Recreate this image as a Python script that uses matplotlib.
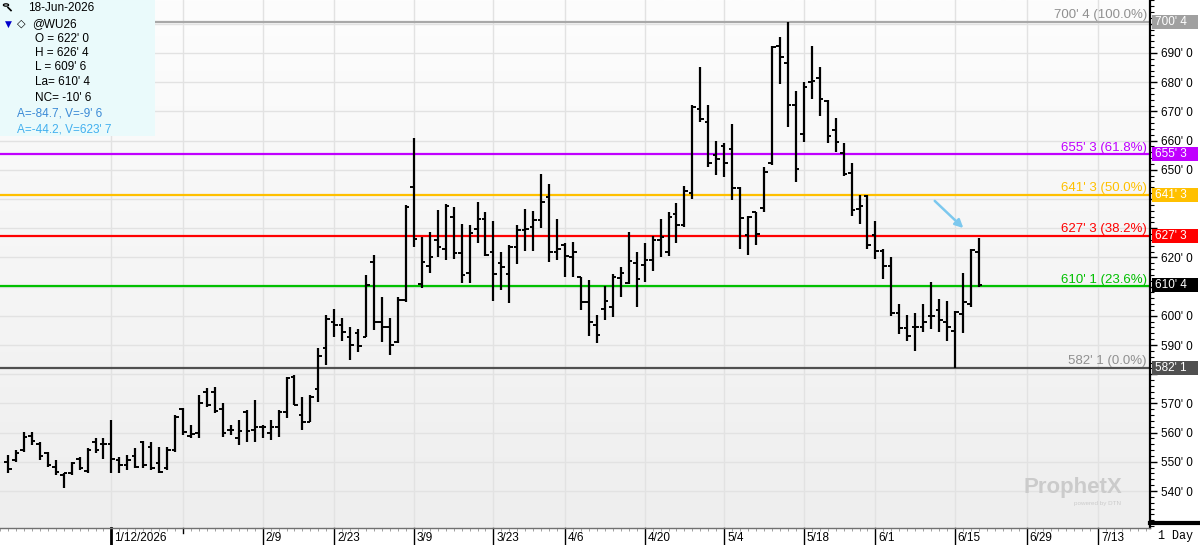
import numpy as np
import pandas as pd
import matplotlib.pyplot as plt
import matplotlib.transforms as mtransforms
from matplotlib.colors import LinearSegmentedColormap
from matplotlib.patches import Rectangle, FancyArrowPatch, Circle
from matplotlib.ticker import FuncFormatter, MultipleLocator

plt.rcParams["font.family"] = ["Liberation Sans", "DejaVu Sans"]

# ------------------------------------------------------------------
# Data: @WU26 daily bars, exchange holidays
# ------------------------------------------------------------------
holidays = ["2025-12-25", "2026-01-01", "2026-01-19", "2026-02-16",
            "2026-04-03", "2026-05-25", "2026-06-19", "2026-07-03"]

opens = [550, 550.5, 554, 559, 556, 553, 548.3, 545.5, 546, 551,
         547, 556.9, 556, 556, 550.5, 549, 552, 556.9, 555, 549.5,
         547.8, 554, 568, 559, 560, 574, 574, 568, 561, 558,
         567, 561, 562, 560, 562, 567, 579, 566, 563.5, 575,
         588.9, 598, 597, 592.9, 594, 592.8, 618.5, 598, 596.3, 591.1,
         605.4, 644.2, 611, 617, 625.9, 623, 633.7, 621.4, 614.8, 629.6,
         633, 622, 618, 614.3, 623.4, 629.4, 630.5, 632.8, 640.8, 622,
         624.2, 620, 613.2, 604.8, 596.8, 602.2, 603, 613, 611.1, 618,
         617.4, 619.1, 626, 622, 635, 631, 642.2, 670.7, 666.5, 655,
         658, 657, 643.6, 627.7, 635.4, 637, 652.4, 692.4, 686.5, 672.2,
         662.3, 680.2, 681.3, 673.5, 663.6, 655.6, 648.8, 636.5, 641, 627.7,
         622.3, 617, 601, 595.7, 596.3, 596.3, 600, 602, 598, 594.9,
         600.6, 604, 622]
highs = [552.3, 554, 560.3, 560.3, 556.9, 553.5, 550.6, 546.3, 550, 551.5,
         554.6, 558, 558, 564.3, 551.5, 552.3, 554.6, 557.2, 556.9, 555.2,
         555.2, 566, 568.3, 562.6, 572.9, 575.2, 575.7, 570, 562.6, 564.3,
         567.7, 571.2, 562.6, 564.3, 567.7, 579.2, 579.7, 572.3, 572.9, 588.9,
         600.3, 602.2, 599.1, 596, 595.4, 614, 620.8, 606.6, 599.1, 606.6,
         637.9, 660.8, 627.1, 628.8, 636.2, 638.3, 637.1, 631.4, 631.1, 639.1,
         635.7, 632.6, 622, 624.2, 631.1, 636.6, 636, 648.6, 645.1, 633,
         624.8, 625.4, 613.4, 612.3, 600.3, 610.2, 614.3, 616.8, 628.8, 622,
         624.8, 627.3, 633, 635.7, 638.5, 644.4, 672.2, 685.3, 672.2, 660,
         659.3, 665.7, 644.2, 634.2, 635.7, 651.1, 692.4, 695.6, 700.5, 677.1,
         680.2, 692.4, 685.3, 674, 667.6, 659.3, 652.2, 641.4, 641.4, 632.6,
         622.8, 620.3, 604, 600.3, 601.1, 604, 611.7, 605.6, 605.2, 601.6,
         614.5, 622.8, 626.5]
lows = [546.1, 550, 553.5, 555.8, 550.6, 548.3, 545.5, 540.9, 545.5, 547.2,
        546.1, 553, 551, 546.1, 546.1, 547.2, 547.8, 547.8, 547.2, 546.1,
        547.2, 553.5, 559.2, 558, 558, 568.9, 566.6, 558.6, 559.2, 555.8,
        556.9, 556.9, 558, 557.5, 558.6, 565, 569.5, 561, 563.5, 570.6,
        583.2, 592.9, 591.5, 584.9, 587.7, 592.6, 595.1, 591.1, 586.6, 590.6,
        604.8, 623.7, 609.4, 614.5, 620.2, 619.1, 619.3, 611.1, 611.1, 624.8,
        620.5, 605.2, 609, 604.5, 617.7, 622.3, 622.3, 630, 618.5, 619.1,
        613.4, 613.4, 602, 593.1, 590.6, 598.6, 599.7, 606.3, 610.9, 603.1,
        611.7, 615.5, 620, 620.5, 624.8, 630.5, 639.9, 666.5, 650.8, 648.2,
        647.4, 639.7, 622.8, 620.8, 624.2, 635.7, 651.6, 679.4, 664.8, 645.9,
        659.6, 674.1, 668.4, 659.3, 656.2, 647.9, 634.2, 631.4, 622.8, 619.3,
        612.5, 599.9, 593.8, 591.5, 588.1, 594.6, 595.4, 594.6, 591.5, 582.125,
        594, 603.1, 609.75]
closes = [547.5, 553, 558.6, 557, 552, 549, 546.6, 546, 549.5, 547.8,
          554, 554, 556, 551, 549, 550.5, 548.3, 548.9, 547.8, 546.6,
          554, 565.5, 560.3, 559.5, 570, 569.5, 567.5, 560, 561, 560.5,
          560.5, 562, 562, 562, 567.2, 578.6, 569.5, 563.7, 572.3, 586.2,
          598.8, 596.9, 594.6, 590, 589.7, 610.5, 598, 596.3, 590, 605.4,
          637.1, 626.2, 618.5, 620.2, 623.4, 637.6, 621.4, 614, 628.5, 633,
          620.8, 614.3, 616.6, 623.4, 629.4, 629.8, 632.8, 639.1, 622, 623,
          620.5, 622, 604.8, 598, 593.4, 605, 613.4, 614.5, 618.9, 612.5,
          619.1, 625.9, 627, 633.7, 631.1, 642.8, 671.4, 667.3, 652.2, 653.6,
          652.4, 643.6, 633.4, 634, 628, 649.4, 692, 688.7, 672.2, 650.2,
          678.5, 680.5, 674.1, 661.6, 659.6, 648.6, 636.2, 637.6, 624.2, 622.3,
          617, 601, 595.7, 593.1, 596.3, 598, 599.9, 598.6, 596.3, 601.4,
          604.8, 622.5, 610.5]

fib_pcts = [0.0, 0.236, 0.382, 0.5, 0.618, 1.0]
fib_colors = ["#505050", "#00c000", "#ff0000", "#ffc000", "#c000ff", "#a8a8a8"]

sessions = pd.bdate_range("2025-12-22", "2026-07-17", freq="C", holidays=holidays)
n = len(opens)
xs = np.arange(n)


def fmt_price(p, pos=None):
    whole = int(np.floor(p + 1e-9))
    eighth = int(np.ceil((p - whole) * 8 - 1e-6))
    if eighth == 8:
        whole, eighth = whole + 1, 0
    return f"{whole}' {eighth}"


# fib levels and the prices that get a coloured box on the axis
hi_i = int(np.argmax(highs))
swing_hi = highs[hi_i]
swing_lo = min(lows[hi_i:])
rng = swing_hi - swing_lo
levels = [swing_lo + p * rng for p in fib_pcts]
box_levels = [lv for lv, p in zip(levels, fib_pcts) if p != 0.236] + [closes[-1]]


def axis_label(p, pos=None):
    # labels hidden behind a price box are left out
    if any(abs(p - b) < 4.5 for b in box_levels):
        return ""
    return fmt_price(p)


# ------------------------------------------------------------------
# Figure / axes
# ------------------------------------------------------------------
W, H = 1200, 545
fig = plt.figure(figsize=(W / 100, H / 100), dpi=100)
fig.patch.set_facecolor("white")
ax = fig.add_axes([0, 17 / H, 1150 / W, 528 / H])

bg = LinearSegmentedColormap.from_list("bg", ["#fdfdfd", "#eeeeee"])
ax.imshow(np.linspace(0, 1, 256).reshape(-1, 1), cmap=bg, extent=[0, 1, 0, 1],
          transform=ax.transAxes, aspect="auto", zorder=0)
ax.set_xlim(-0.25, 143.5)
ax.set_ylim(527.33, 708.15)

for s in ["top", "left"]:
    ax.spines[s].set_visible(False)
ax.spines["right"].set_color("black")
ax.spines["right"].set_linewidth(1.6)
ax.spines["bottom"].set_color("#707070")
ax.spines["bottom"].set_linewidth(1)

# right price axis
ax.yaxis.tick_right()
ax.set_yticks(np.arange(540, 701, 10))
ax.yaxis.set_minor_locator(MultipleLocator(2))
ax.yaxis.set_major_formatter(FuncFormatter(axis_label))
ax.tick_params(axis="y", which="major", length=5, width=1, labelsize=8.5, pad=3)
ax.tick_params(axis="y", which="minor", length=3, width=0.8)
ax.grid(axis="y", color="#e2e2e2", lw=1, zorder=1)

# date axis (biweekly Mondays)
tick_days = pd.date_range("2026-01-12", "2026-07-13", freq="14D")
tick_idx = sessions.get_indexer(tick_days)
ax.set_xticks([])
ax.set_xticks(np.arange(-1, 144), minor=True)
ax.tick_params(axis="x", which="minor", length=2, width=0.6, color="#909090")
blend = mtransforms.blended_transform_factory(ax.transData, ax.transAxes)
for k, (d, i) in enumerate(zip(tick_days, tick_idx)):
    ax.axvline(i, color="#e2e2e2", lw=1, zorder=1)
    if k == 1:
        ax.plot([i, i], [0, -5 / 528], transform=blend, clip_on=False,
                color="black", lw=1)
        continue
    ax.plot([i, i], [0, -17 / 528], transform=blend, clip_on=False,
            color="black", lw=2 if k == 0 else 1)
    label = f"{d.month}/{d.day}/{d.year}" if k == 0 else f"{d.month}/{d.day}"
    ax.text(i + 0.35, -10 / 528, label, transform=blend, ha="left", va="center",
            fontsize=8.5, clip_on=False)

# ------------------------------------------------------------------
# Fibonacci retracement lines
# ------------------------------------------------------------------
ay = mtransforms.blended_transform_factory(ax.transAxes, ax.transData)
for pct, lvl, col in zip(fib_pcts, levels, fib_colors):
    ax.axhline(lvl, color=col, lw=1.6, zorder=2)
    tcol = "#909090" if pct in (0.0, 1.0) else col
    ax.text(1147 / 1150, lvl + 0.3, f"{fmt_price(lvl)} ({pct * 100:.1f}%)",
            transform=ay, ha="right", va="bottom", fontsize=9.5, color=tcol, zorder=3)
    if pct == 0.236:
        continue
    box_col = "#a0a0a0" if pct == 1.0 else col
    ax.add_patch(Rectangle((1152 / 1150, lvl - 2.4), 46 / 1150, 4.8, transform=ay,
                           facecolor=box_col, edgecolor="none", clip_on=False, zorder=5))
    ax.text(1155 / 1150, lvl, fmt_price(lvl), transform=ay, ha="left", va="center",
            fontsize=8.5, color="white", clip_on=False, zorder=6)

# last price box
last = closes[-1]
ax.add_patch(Rectangle((1152 / 1150, last - 2.4), 46 / 1150, 4.8, transform=ay,
                       facecolor="black", edgecolor="none", clip_on=False, zorder=5))
ax.text(1155 / 1150, last, fmt_price(last), transform=ay, ha="left", va="center",
        fontsize=8.5, color="white", clip_on=False, zorder=6)

# ------------------------------------------------------------------
# OHLC bars
# ------------------------------------------------------------------
ax.vlines(xs, lows, highs, color="black", lw=1.6, zorder=4)
ax.hlines(opens, xs - 0.45, xs, color="black", lw=1.4, zorder=4)
ax.hlines(closes, xs, xs + 0.45, color="black", lw=1.4, zorder=4)

# annotation arrow
ax.add_patch(FancyArrowPatch((116.2, 640.0), (120.3, 629.4), arrowstyle="-|>",
                             mutation_scale=12, color="#7cc8ee", lw=1.8, zorder=6))

# watermark
ax.text(1122 / 1150, 1 - 488 / 528, "ProphetX", transform=ax.transAxes, ha="right",
        va="center", fontsize=16, fontweight="bold", color="#cbcbcb", zorder=3)
ax.text(1121 / 1150, 1 - 503 / 528, "powered by DTN", transform=ax.transAxes,
        ha="right", va="center", fontsize=4.5, color="#cbcbcb", zorder=3)

# ------------------------------------------------------------------
# Info panel (top-left) and corner label
# ------------------------------------------------------------------
def fx(px):
    return px / W


def fy(py):
    return 1 - py / H


fig.add_artist(Rectangle((0, fy(136)), fx(155), 136 / H, transform=fig.transFigure,
                         facecolor="#eafafb", edgecolor="none", zorder=5))
fig.add_artist(Circle((fx(6), fy(5)), 2.6 / W, transform=fig.transFigure,
                      facecolor="none", edgecolor="black", lw=0.9, zorder=6))
fig.add_artist(plt.Line2D([fx(8), fx(11)], [fy(7.5), fy(10.5)], transform=fig.transFigure,
                          color="black", lw=1.2, zorder=6))
fig.text(fx(28), fy(8), "18-Jun-2026", fontsize=8.5, va="center", zorder=6)
fig.text(fx(5), fy(24), "\u25bc", fontsize=6.5, color="#0000cc", va="center", zorder=6,
         family="DejaVu Sans")
fig.text(fx(17), fy(24), "\u25c7", fontsize=8, color="black", va="center", zorder=6,
         fontweight="bold", family="DejaVu Sans")
fig.text(fx(32), fy(24), "@WU26", fontsize=8.5, va="center", zorder=6)
info = [("O = 622' 0", 39), ("H = 626' 4", 53), ("L = 609' 6", 67),
        ("La= 610' 4", 82), ("NC= -10' 6", 98)]
for txt, py in info:
    fig.text(fx(35), fy(py), txt, fontsize=8.5, va="center", zorder=6)
fig.text(fx(17), fy(114), "A=-84.7, V=-9' 6", fontsize=8.5, va="center",
         color="#3b8ad6", zorder=6)
fig.text(fx(17), fy(129), "A=-44.2, V=623' 7", fontsize=8.5, va="center",
         color="#42b0ef", zorder=6)

fig.add_artist(plt.Line2D([fx(1150), fx(1200)], [fy(523), fy(523)],
                          transform=fig.transFigure, color="black", lw=3))
fig.text(fx(1158), fy(536), "1 Day", fontsize=8.5, family="Liberation Mono",
         va="center")

fig.savefig("out.png", dpi=100)
